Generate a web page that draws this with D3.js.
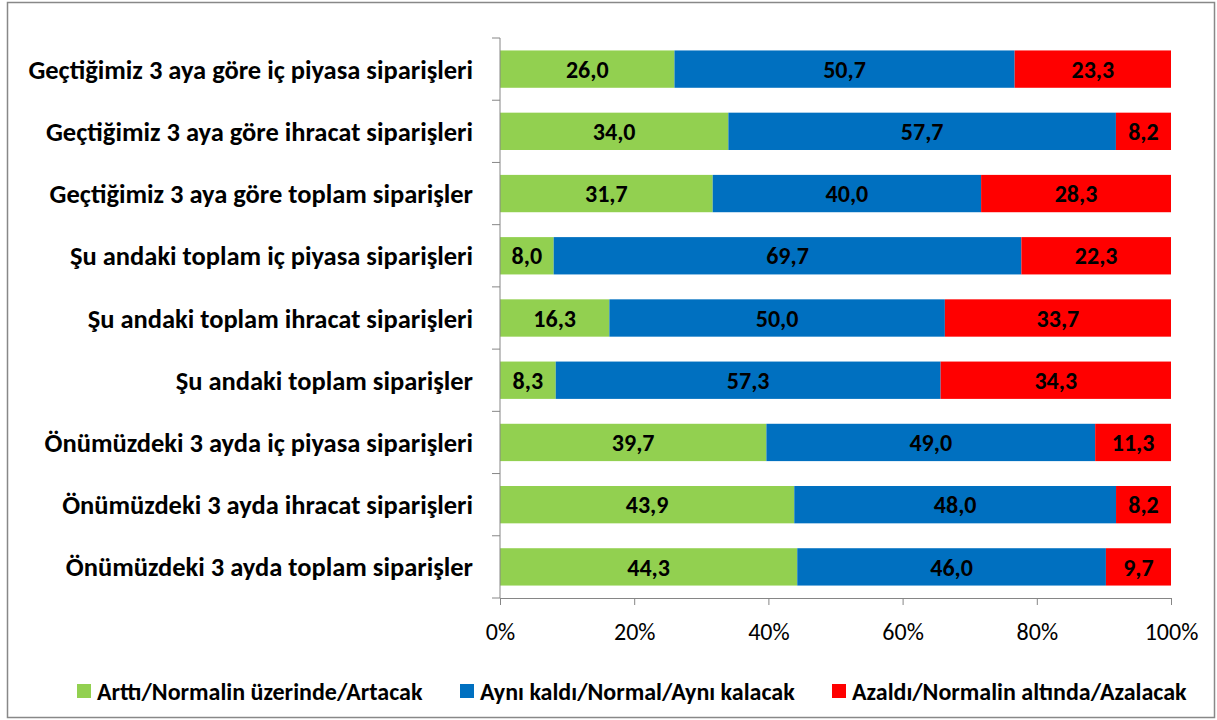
<!DOCTYPE html>
<html>
<head>
<meta charset="utf-8">
<script src="https://cdn.jsdelivr.net/npm/d3@7"></script>
<style>
  body { margin: 0; background: #fff; }
  svg text { font-family: Carlito, Calibri, Lato, "Open Sans", sans-serif; }
</style>
</head>
<body>
<div id="chart"></div>
<script>
// chart data
var categories = [
  "Geçtiğimiz 3 aya göre iç piyasa siparişleri",
  "Geçtiğimiz 3 aya göre ihracat siparişleri",
  "Geçtiğimiz 3 aya göre toplam siparişler",
  "Şu andaki toplam iç piyasa siparişleri",
  "Şu andaki toplam ihracat siparişleri",
  "Şu andaki toplam siparişler",
  "Önümüzdeki 3 ayda iç piyasa siparişleri",
  "Önümüzdeki 3 ayda ihracat siparişleri",
  "Önümüzdeki 3 ayda toplam siparişler"
];
var seriesNames = ["Arttı/Normalin üzerinde/Artacak", "Aynı kaldı/Normal/Aynı kalacak", "Azaldı/Normalin altında/Azalacak"];
var arttiValues = [26.0, 34.0, 31.7, 8.0, 16.3, 8.3, 39.7, 43.9, 44.3];
var ayniValues = [50.7, 57.7, 40.0, 69.7, 50.0, 57.3, 49.0, 48.0, 46.0];
var azaldiValues = [23.3, 8.2, 28.3, 22.3, 33.7, 34.3, 11.3, 8.2, 9.7];
var xTicks = [0, 0.2, 0.4, 0.6, 0.8, 1];

var colors = ["#92D050", "#0070C0", "#FF0000"];

var svgWidth = 1217;
var svgHeight = 720;
var margin = { top: 38, right: 46, bottom: 122, left: 500 };
var width = svgWidth - margin.left - margin.right;
var height = svgHeight - margin.top - margin.bottom;

var svg = d3.select("#chart")
  .append("svg")
  .attr("width", svgWidth)
  .attr("height", svgHeight);

// outer frame
svg.append("rect")
  .attr("x", 7.5).attr("y", 2.5)
  .attr("width", 1207).attr("height", 715)
  .attr("fill", "#fff")
  .attr("stroke", "#888")
  .attr("stroke-width", 1.5);

var chartGroup = svg.append("g")
  .attr("transform", `translate(${margin.left}, ${margin.top})`);

// build rows, 100% stacked
var rows = categories.map(function(c, i) {
  var vals = [arttiValues[i], ayniValues[i], azaldiValues[i]];
  var total = d3.sum(vals);
  return { cat: c, vals: vals, s0: vals[0] / total, s1: vals[1] / total, s2: vals[2] / total };
});
var stack = d3.stack().keys(["s0", "s1", "s2"])(rows);

var xScale = d3.scaleLinear().domain([0, 1]).range([0, width]);
var yScale = d3.scaleBand().domain(categories).range([0, height]).paddingInner(0.4).paddingOuter(0.2);

// bars
stack.forEach(function(layer, k) {
  var g = chartGroup.append("g");
  g.selectAll("rect")
    .data(layer)
    .enter()
    .append("rect")
    .attr("x", d => xScale(d[0]))
    .attr("y", d => yScale(d.data.cat))
    .attr("width", d => xScale(d[1]) - xScale(d[0]))
    .attr("height", yScale.bandwidth())
    .attr("fill", colors[k]);

  g.selectAll("text")
    .data(layer)
    .enter()
    .append("text")
    .attr("x", d => (xScale(d[0]) + xScale(d[1])) / 2)
    .attr("y", d => yScale(d.data.cat) + yScale.bandwidth() / 2)
    .attr("dy", "0.36em")
    .attr("text-anchor", "middle")
    .attr("font-size", "24px")
    .attr("font-weight", "bold")
    .attr("fill", "#000")
    .text(d => d.data.vals[k].toFixed(1).replace(".", ","));
});

// y axis: line + ticks at band boundaries
var yAxisG = chartGroup.append("g");
yAxisG.append("line")
  .attr("x1", 0).attr("x2", 0).attr("y1", 0).attr("y2", height)
  .attr("stroke", "#868686");
var step = yScale.step();
d3.range(categories.length + 1).forEach(function(i) {
  yAxisG.append("line")
    .attr("x1", -8).attr("x2", 0)
    .attr("y1", i * step).attr("y2", i * step)
    .attr("stroke", "#868686");
});
yAxisG.selectAll("text.cat")
  .data(categories)
  .enter()
  .append("text")
  .attr("class", "cat")
  .attr("x", -27)
  .attr("y", d => yScale(d) + yScale.bandwidth() / 2)
  .attr("dy", "0.36em")
  .attr("text-anchor", "end")
  .attr("font-size", "26.5px")
  .attr("font-weight", "bold")
  .attr("fill", "#000")
  .text(d => d);

// x axis
var bottomAxis = d3.axisBottom(xScale)
  .tickValues(xTicks)
  .tickSize(7)
  .tickFormat(d3.format(".0%"));
var xAxis = chartGroup.append("g")
  .attr("transform", `translate(0, ${height})`)
  .call(bottomAxis);
xAxis.select(".domain").attr("stroke", "#868686");
xAxis.selectAll(".tick line").attr("stroke", "#868686");
xAxis.selectAll(".tick text")
  .attr("font-size", "24px")
  .attr("fill", "#000")
  .attr("dy", "0")
  .attr("y", 42);

// legend
var legendX = [77, 460, 832];
var legend = svg.append("g").attr("transform", "translate(0, 691)");
seriesNames.forEach(function(name, i) {
  legend.append("rect")
    .attr("x", legendX[i]).attr("y", -7)
    .attr("width", 14).attr("height", 14)
    .attr("fill", colors[i]);
  legend.append("text")
    .attr("x", legendX[i] + 20)
    .attr("y", 0)
    .attr("dy", "0.36em")
    .attr("font-size", "24px")
    .attr("font-weight", "bold")
    .attr("fill", "#000")
    .text(name);
});
</script>
</body>
</html>
